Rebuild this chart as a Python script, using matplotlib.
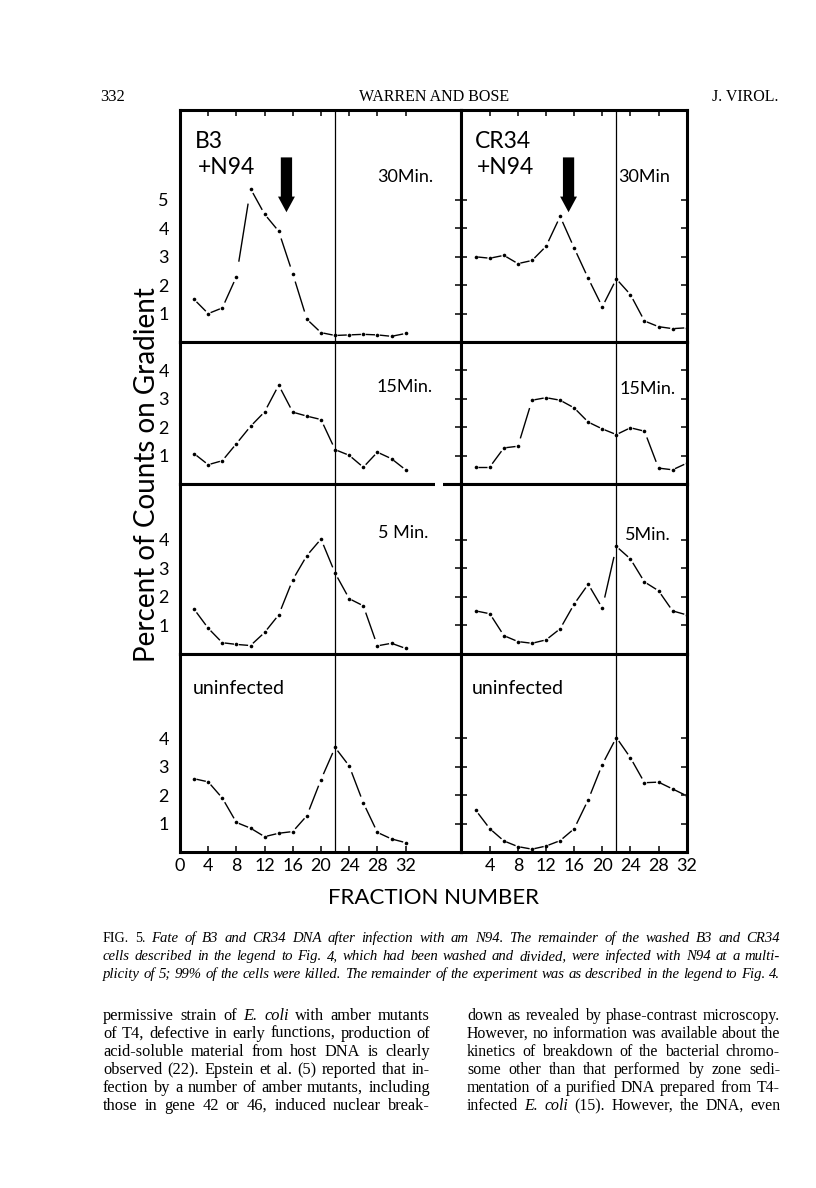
# Fig. 5 - Warren and Bose, J. Virol.: B3 / CR34 DNA on gradients after infection with N94
import numpy as np
import matplotlib
matplotlib.use("Agg")
import matplotlib.pyplot as plt
from matplotlib.patches import FancyArrow, Rectangle

# fractions sampled (every second fraction)
fractions = [2, 4, 6, 8, 10, 12, 14, 16, 18, 20, 22, 24, 26, 28, 30, 32]

# percent of counts on gradient
b3_30 = [1.5, 1.0, 1.2, 2.3, 5.4, 4.5, 3.9, 2.4, 0.8, 0.33, 0.23, 0.25, 0.27, 0.25, 0.2, 0.3]
cr34_30 = [3.0, 2.95, 3.05, 2.76, 2.87, 3.37, 4.42, 3.31, 2.24, 1.24, 2.22, 1.67, 0.74, 0.54, 0.47, 0.5]
b3_15 = [1.07, 0.68, 0.82, 1.42, 2.03, 2.54, 3.48, 2.53, 2.39, 2.27, 1.21, 1.01, 0.59, 1.12, 0.89, 0.5]
cr34_15 = [0.6, 0.6, 1.27, 1.33, 2.95, 3.04, 2.95, 2.68, 2.18, 1.94, 1.74, 1.98, 1.86, 0.56, 0.5, 0.73]
b3_5 = [1.56, 0.89, 0.38, 0.32, 0.28, 0.74, 1.36, 2.6, 3.45, 4.03, 2.83, 1.93, 1.68, 0.27, 0.36, 0.18]
cr34_5 = [1.5, 1.4, 0.63, 0.42, 0.36, 0.48, 0.87, 1.74, 2.44, 1.6, 3.77, 3.33, 2.52, 2.21, 1.5, 1.36]
b3_un = [2.58, 2.47, 1.9, 1.04, 0.84, 0.54, 0.66, 0.72, 1.28, 2.55, 3.68, 3.03, 1.73, 0.69, 0.46, 0.33]
cr34_un = [1.47, 0.82, 0.39, 0.19, 0.1, 0.21, 0.4, 0.82, 1.84, 3.08, 4.03, 3.32, 2.44, 2.46, 2.22, 1.98]

series = [[b3_30, cr34_30], [b3_15, cr34_15], [b3_5, cr34_5], [b3_un, cr34_un]]
time_labels = [["30Min.", "30Min"], ["15Min.", "15Min."], ["5 Min.", "5Min."], ["", ""]]
marker_fraction = 22     # thin vertical reference line
arrow_fraction = [15.1, 15.2]
yticks = [[1, 2, 3, 4, 5], [1, 2, 3, 4], [1, 2, 3, 4], [1, 2, 3, 4]]
xticks_left = [0, 4, 8, 12, 16, 20, 24, 28, 32]
xticks_right = [4, 8, 12, 16, 20, 24, 28, 32]

W, H = 816, 1188
fig = plt.figure(figsize=(W / 100, H / 100), dpi=100)
plt.rcParams['font.family'] = ['Lato', 'DejaVu Sans']

# panel geometry in pixels
col_x = [(180, 461), (461, 687)]
row_y = [110, 342, 484, 653.5, 852]
px_per_unit = 28.4
xlims = [(0, (461 - 180) / 7.05), (-0.1, 32.05)]


def fx(x):
    return x / W


def fy(y):
    return 1 - y / H


def dashdot(ax, xs, ys):
    # dash between each pair of points, dot at each point
    for i in range(len(xs) - 1):
        x0, y0, x1, y1 = xs[i], ys[i], xs[i + 1], ys[i + 1]
        ax.plot([x0 + 0.17 * (x1 - x0), x0 + 0.83 * (x1 - x0)],
                [y0 + 0.17 * (y1 - y0), y0 + 0.83 * (y1 - y0)],
                color='black', lw=1.0, solid_capstyle='butt')
    ax.plot(xs, ys, 'o', color='black', ms=2.6, mew=0)


for r in range(4):
    for c in range(2):
        x0, x1 = col_x[c]
        ytop, ybot = row_y[r], row_y[r + 1]
        ax = fig.add_axes([fx(x0), fy(ybot), (x1 - x0) / W, (ybot - ytop) / H])
        ax.set_xlim(*xlims[c])
        ax.set_ylim(0, (ybot - ytop) / px_per_unit)
        for s in ax.spines.values():
            s.set_linewidth(2.2)
        ax.axvline(marker_fraction, color='black', lw=0.9)
        dashdot(ax, fractions, series[r][c])

        ax.set_yticks(yticks[r])
        ax.set_xticks(xticks_left if c == 0 else xticks_right)
        ax.tick_params(direction='in', length=4.3, width=1.1, labelsize=13, pad=4)
        if c == 0:
            ax.tick_params(axis='y', left=False, right=True, labelleft=True, labelsize=13, pad=8)
        else:
            ax.tick_params(axis='y', left=True, right=True, labelleft=False)
        ax.tick_params(axis='x', top=(r == 0), bottom=(r == 3), labelbottom=(r == 3))

        if r == 0:
            ax.add_patch(FancyArrow(arrow_fraction[c], 6.5, 0, -1.93, width=1.6,
                                    head_width=2.4, head_length=0.55,
                                    length_includes_head=True, color='black', lw=0))

# panel annotations
fig.text(fx(195), fy(142), "B3", fontsize=16.5, va='center')
fig.text(fx(198), fy(167), "+N94", fontsize=16.5, va='center')
fig.text(fx(475), fy(142), "CR34", fontsize=16.5, va='center')
fig.text(fx(477), fy(167), "+N94", fontsize=16.5, va='center')
fig.text(fx(377), fy(177), time_labels[0][0], fontsize=13, va='center')
fig.text(fx(618), fy(177), time_labels[0][1], fontsize=13, va='center')
fig.text(fx(377), fy(387), time_labels[1][0], fontsize=13, va='center')
fig.text(fx(620), fy(389), time_labels[1][1], fontsize=13, va='center')
fig.text(fx(378), fy(533), time_labels[2][0], fontsize=13, va='center')
fig.text(fx(625), fy(535), time_labels[2][1], fontsize=13, va='center')
fig.text(fx(193), fy(688), "uninfected", fontsize=14, va='center')
fig.text(fx(472), fy(688), "uninfected", fontsize=14, va='center')

fig.text(fx(147), fy(475), "Percent of Counts on Gradient", rotation=90,
         ha='center', va='center', fontsize=20)
fig.text(fx(434), fy(898), "FRACTION NUMBER", ha='center', va='center', fontsize=16)

# small break in the divider between the 15 and 5 min rows
fig.patches.append(Rectangle((fx(435), fy(488)), 8 / W, 8 / H, transform=fig.transFigure,
                             facecolor='white', edgecolor='none', zorder=10))

# ---- page text ----
serif = 'Liberation Serif'
fig.text(fx(100), fy(101), "332", family=serif, fontsize=12)
fig.text(fx(434), fy(101), "WARREN AND BOSE", family=serif, fontsize=11.5, ha='center')
fig.text(fx(778), fy(101), "J. VIROL.", family=serif, fontsize=11.5, ha='right')

renderer = fig.canvas.get_renderer()


def split_words(segments):
    words = []
    for text, style in segments:
        for w in text.split():
            words.append((w, style))
    return words


def text_block(lines, x0, x1, y0, size, step=18):
    # one font size for the whole block, small enough that every line fits
    blocks = []
    for i, seg in enumerate(lines):
        words = split_words(seg)
        arts = [fig.text(0, fy(y0 + step * i), w, family=serif,
                         style='italic' if st == 'i' else 'normal') for w, st in words]
        blocks.append((words, arts))
    while True:
        ok = True
        layout = []
        for words, arts in blocks:
            for t, (w, st) in zip(arts, words):
                t.set_fontsize(size * (0.95 if st == 'sc' else 1))
            widths = [t.get_window_extent(renderer).width for t in arts]
            gap = ((x1 - x0) - sum(widths)) / (len(arts) - 1)
            if gap < 0.24 * size * 100 / 72:
                ok = False
            layout.append((arts, widths, gap))
        if ok or size < 8:
            break
        size -= 0.1
    for arts, widths, gap in layout:
        x = x0
        for t, wd in zip(arts, widths):
            t.set_x(fx(x))
            x += wd + gap


caption = [
    [("FIG. 5.", "sc"), ("Fate of B3 and CR34 DNA after infection with am N94. The remainder of the washed B3 and CR34", "i")],
    [("cells described in the legend to Fig. 4, which had been washed and divided, were infected with N94 at a multi-", "i")],
    [("plicity of 5; 99% of the cells were killed. The remainder of the experiment was as described in the legend to Fig. 4.", "i")],
]
text_block(caption, 103, 780, 942, 11.3)

body_left = [
    [("permissive strain of", "r"), ("E. coli", "i"), ("with amber mutants", "r")],
    [("of T4, defective in early functions, production of", "r")],
    [("acid-soluble material from host DNA is clearly", "r")],
    [("observed (22). Epstein et al. (5) reported that in-", "r")],
    [("fection by a number of amber mutants, including", "r")],
    [("those in gene 42 or 46, induced nuclear break-", "r")],
]
body_right = [
    [("down as revealed by phase-contrast microscopy.", "r")],
    [("However, no information was available about the", "r")],
    [("kinetics of breakdown of the bacterial chromo-", "r")],
    [("some other than that performed by zone sedi-", "r")],
    [("mentation of a purified DNA prepared from T4-", "r")],
    [("infected", "r"), ("E. coli", "i"), ("(15). However, the DNA, even", "r")],
]
text_block(body_left, 103, 430, 1020, 11.8)
text_block(body_right, 467, 780, 1020, 11.8)

fig.savefig("out.png", dpi=100)
